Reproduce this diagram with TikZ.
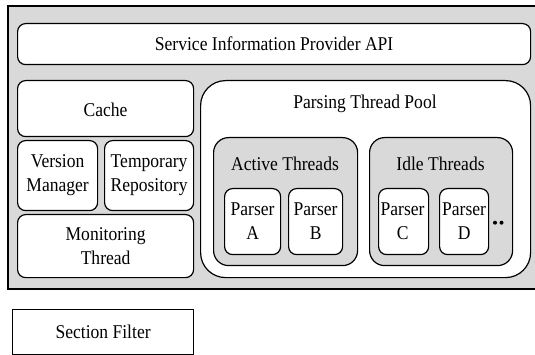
\documentclass[tikz,border=0pt]{standalone}
\usepackage{fontspec}
\setmainfont{Liberation Serif}[FakeStretch=0.9]
\definecolor{panelgray}{HTML}{D9D9D9}
\begin{document}
\begin{tikzpicture}[x=1pt,y=-1pt,
  every node/.style={font=\fontsize{19.5}{24}\selectfont, inner sep=0pt, align=center},
  part/.style={draw=black, line width=1.2pt, fill=white, rounded corners=8pt, anchor=north west},
  group/.style={draw=black, line width=1.2pt, fill=panelgray, rounded corners=15pt, anchor=north west},
  worker/.style={part, minimum width=52pt, minimum height=66pt},
  caption/.style={anchor=center}
]
\useasboundingbox (0,0) rectangle (535,355);
\clip (0,0) rectangle (535,355);

% outer frame holding the provider components
\node[draw=black, line width=1.6pt, fill=panelgray, anchor=north west,
      minimum width=540pt, minimum height=283pt] (frame) at (7,5) {};

\node[part, minimum width=513pt, minimum height=41pt] (api) at (17,23) {};
\node[caption] at (api.center) {Service Information Provider API};

% left column
\node[part, minimum width=176pt, minimum height=56pt] (cache) at (17,80) {};
\node[caption] at ([yshift=-1pt]cache.center) {Cache};
\node[part, minimum width=80pt, minimum height=70pt] (version) at (17,140) {};
\node[caption] at (version.center) {Version\\Manager};
\node[part, minimum width=89pt, minimum height=70pt] (temprepo) at (104,140) {};
\node[caption] at (temprepo.center) {Temporary\\Repository};
\node[part, minimum width=176pt, minimum height=63pt] (monitor) at (17,214) {};
\node[caption] at (monitor.center) {Monitoring\\Thread};

% thread pool
\node[part, rounded corners=25pt, minimum width=330pt, minimum height=197pt] (pool) at (200,80) {};
\node[caption] (pooltitle) at (365,104) {Parsing Thread Pool};

\node[group, minimum width=144pt, minimum height=128pt] (active) at (213,137) {};
\node[caption] (activetitle) at (285,164) {Active Threads};
\node[group, minimum width=143pt, minimum height=128pt] (idle) at (369,137) {};
\node[caption] (idletitle) at (440.5,164) {Idle Threads};

\node[worker, minimum width=56pt] (pa) at (224,188) {};
\node[caption] at (pa.center) {Parser\\A};
\node[worker, minimum width=54pt] (pb) at (288,188) {};
\node[caption] at (pb.center) {Parser\\B};
\node[worker, minimum width=50pt] (pc) at (378,188) {};
\node[caption] at ([xshift=-1pt]pc.center) {Parser\\C};
\node[worker, minimum width=49pt] (pd) at (439,188) {};
\node[caption] at (pd.center) {Parser\\D};

\fill (495,222.7) circle (2pt) (501.5,222.7) circle (2pt);

% separate filter component
\node[draw=black, line width=1.2pt, fill=white, anchor=north west,
      minimum width=181pt, minimum height=45pt] (filter) at (12,309) {};
\node[caption] at (filter.center) {Section Filter};
\end{tikzpicture}
\end{document}
